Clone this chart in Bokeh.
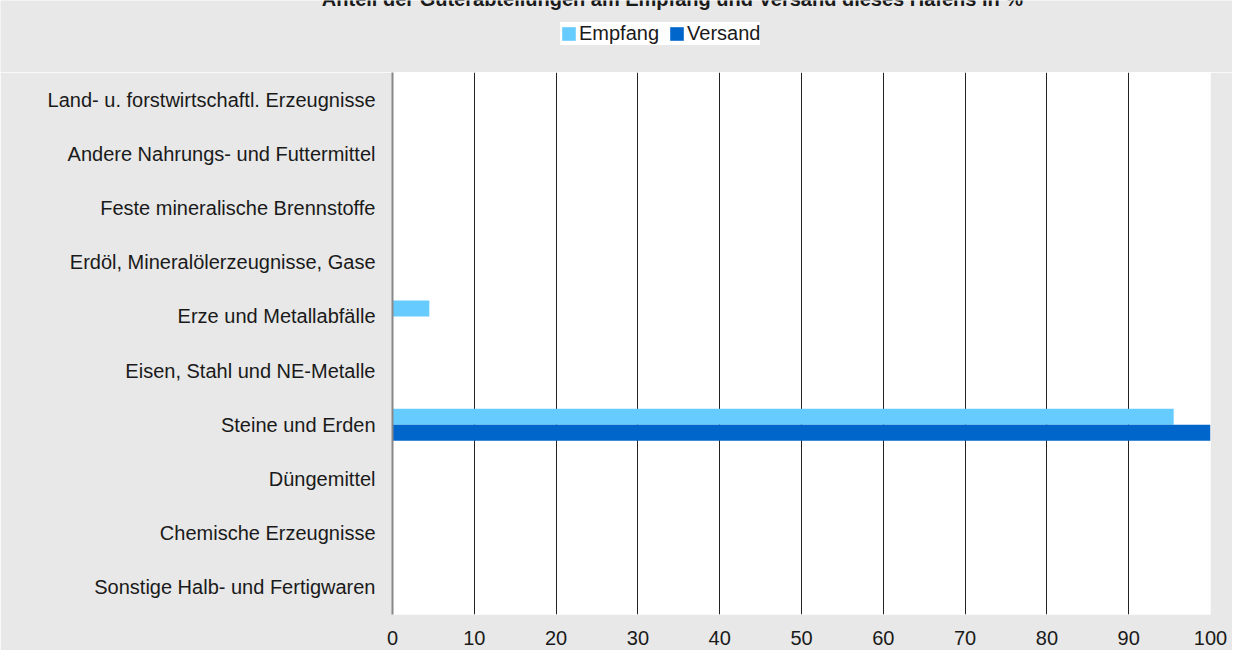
from bokeh.plotting import figure
from bokeh.layouts import column
from bokeh.models import FactorRange, Range1d, FixedTicker, Legend, LegendItem, Label, ColumnDataSource
from bokeh.transform import dodge
from bokeh.embed import file_html
from bokeh.resources import INLINE

title_text = "Anteil der Güterabteilungen am Empfang und Versand dieses Hafens in %"

categories = [
    "Land- u. forstwirtschaftl. Erzeugnisse",
    "Andere Nahrungs- und Futtermittel",
    "Feste mineralische Brennstoffe",
    "Erdöl, Mineralölerzeugnisse, Gase",
    "Erze und Metallabfälle",
    "Eisen, Stahl und NE-Metalle",
    "Steine und Erden",
    "Düngemittel",
    "Chemische Erzeugnisse",
    "Sonstige Halb- und Fertigwaren",
]
empfang = [0, 0, 0, 0, 4.5, 0, 95.5, 0, 0, 0]
versand = [0, 0, 0, 0, 0, 0, 100, 0, 0, 0]
x_ticks = [0, 10, 20, 30, 40, 50, 60, 70, 80, 90, 100]

series_names = ["Empfang", "Versand"]
series_colors = ["#66ccff", "#0066cc"]

FONT = "Liberation Sans"
TXT = "#1a1a1a"
BG = "#e8e8e8"
W = 1232
TOP_H = 72
MAIN_H = 578

src = ColumnDataSource(dict(cat=categories, empfang=empfang, versand=versand))

# ---- header figure: title + legend ----
top = figure(
    width=W, height=TOP_H,
    x_range=Range1d(0, W), y_range=Range1d(0, TOP_H),
    output_backend="svg", toolbar_location=None,
    x_axis_location=None, y_axis_location=None,
    min_border_left=0, min_border_right=0, min_border_top=0, min_border_bottom=0,
)
top.frame_align = False
top.background_fill_color = BG
top.border_fill_color = BG
top.outline_line_color = None
top.xgrid.visible = False
top.ygrid.visible = False

# zero-length proxy bars, only used as legend swatches
lr1 = top.hbar(y=[0], right=[0], left=[0], height=1, fill_color=series_colors[0], line_color=None)
lr2 = top.hbar(y=[0], right=[0], left=[0], height=1, fill_color=series_colors[1], line_color=None)

legend = Legend(
    items=[LegendItem(label=series_names[0], renderers=[lr1]),
           LegendItem(label=series_names[1], renderers=[lr2])],
    orientation="horizontal",
    location=(560, 27),
    background_fill_color="white", background_fill_alpha=1.0,
    border_line_color=None,
    glyph_width=17, glyph_height=17,
    label_text_font=FONT, label_text_font_size="20px", label_text_color=TXT,
    label_standoff=2, spacing=9, padding=3, margin=0,
)
top.add_layout(legend)

title = Label(x=672, y=TOP_H + 2, text=title_text, text_align="center",
              text_baseline="alphabetic", text_font=FONT, text_font_size="20px",
              text_font_style="bold", text_color=TXT)
top.add_layout(title)

# ---- main chart ----
p = figure(
    width=W, height=MAIN_H,
    y_range=FactorRange(*list(reversed(categories)), range_padding=0),
    x_range=Range1d(0, 100),
    output_backend="svg", toolbar_location=None,
    min_border_left=392, min_border_right=22, min_border_top=0, min_border_bottom=36,
)
p.frame_align = False
p.background_fill_color = "white"
p.border_fill_color = BG
p.outline_line_color = None

p.hbar(y=dodge("cat", 0.1476, range=p.y_range), right="empfang", left=0, height=0.295,
       source=src, fill_color=series_colors[0], line_color=None)
p.hbar(y=dodge("cat", -0.1476, range=p.y_range), right="versand", left=0, height=0.295,
       source=src, fill_color=series_colors[1], line_color=None)

p.xaxis.ticker = FixedTicker(ticks=x_ticks)
p.xaxis.axis_line_color = None
p.xaxis.major_tick_line_color = None
p.xaxis.minor_tick_line_color = None
p.xaxis.major_label_text_font = FONT
p.xaxis.major_label_text_font_size = "20px"
p.xaxis.major_label_text_color = TXT
p.xaxis.major_label_standoff = 10

p.yaxis.axis_line_color = "#888888"
p.yaxis.axis_line_width = 2
p.yaxis.major_tick_line_color = None
p.yaxis.minor_tick_line_color = None
p.yaxis.major_label_text_font = FONT
p.yaxis.major_label_text_font_size = "20px"
p.yaxis.major_label_text_color = TXT
p.yaxis.major_label_standoff = 11

p.ygrid.grid_line_color = None
p.xgrid.grid_line_color = "#222222"
p.xgrid.grid_line_width = 1

layout = column(top, p, spacing=0)
open("out.html", "w").write(file_html(layout, INLINE))
